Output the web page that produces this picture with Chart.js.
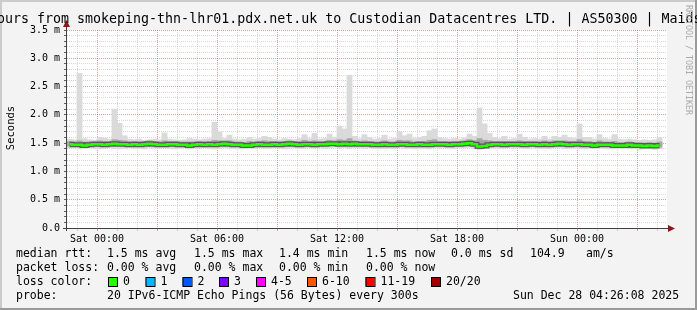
<!DOCTYPE html>
<html>
<head>
<meta charset="utf-8">
<script src="https://cdn.jsdelivr.net/npm/chart.js@4.4.0/dist/chart.umd.min.js"></script>
<style>
  html, body { margin: 0; padding: 0; background: #f3f3f3; }
  #wrap { width: 697px; height: 310px; }
</style>
</head>
<body>
<div id="wrap"><canvas id="smokeChart" width="697" height="310"></canvas></div>
<script>
// --- smokeping data, 15 min slots, hours relative to Sat 00:00 ---
const slotStart = -1.5;
const slotHours = 0.25;

// median rtt (ms)
const medianRtt = [
  1.48,1.47,1.47,1.46,1.47,1.48,1.48,1.47,1.48,1.49,
  1.48,1.48,1.47,1.48,1.47,1.48,1.49,1.48,1.47,1.47,
  1.48,1.48,1.47,1.47,1.46,1.47,1.48,1.47,1.48,1.47,
  1.48,1.49,1.48,1.47,1.47,1.46,1.46,1.47,1.48,1.47,
  1.47,1.48,1.47,1.48,1.49,1.48,1.47,1.48,1.48,1.47,
  1.48,1.48,1.49,1.49,1.48,1.49,1.48,1.49,1.48,1.48,
  1.48,1.47,1.47,1.48,1.47,1.47,1.48,1.48,1.47,1.47,
  1.48,1.47,1.47,1.48,1.48,1.48,1.47,1.48,1.48,1.49,
  1.50,1.48,1.44,1.45,1.47,1.48,1.48,1.47,1.48,1.48,
  1.48,1.47,1.48,1.48,1.47,1.48,1.47,1.48,1.49,1.48,
  1.47,1.48,1.48,1.47,1.47,1.46,1.47,1.47,1.47,1.46,
  1.46,1.46,1.47,1.46,1.46,1.45,1.46,1.45,1.46
];

// outer smoke (slowest / fastest ping)
const smokeMax = [
  1.57,1.56,2.73,1.58,1.56,1.55,1.60,1.59,1.57,2.10,
  1.85,1.63,1.57,1.56,1.57,1.55,1.56,1.57,1.56,1.68,
  1.57,1.56,1.55,1.56,1.58,1.57,1.56,1.57,1.58,1.87,
  1.70,1.58,1.64,1.57,1.56,1.57,1.60,1.57,1.58,1.62,
  1.60,1.57,1.56,1.58,1.57,1.56,1.58,1.65,1.58,1.67,
  1.57,1.58,1.66,1.60,1.80,1.75,2.70,1.62,1.58,1.65,
  1.60,1.57,1.58,1.64,1.57,1.58,1.70,1.63,1.66,1.58,
  1.60,1.62,1.72,1.75,1.60,1.58,1.57,1.58,1.57,1.59,
  1.66,1.62,2.12,1.84,1.67,1.60,1.58,1.62,1.57,1.58,
  1.66,1.60,1.57,1.58,1.57,1.62,1.57,1.62,1.60,1.64,
  1.60,1.58,1.84,1.60,1.60,1.57,1.65,1.58,1.57,1.65,
  1.57,1.56,1.57,1.56,1.55,1.56,1.55,1.56,1.60
];
const smokeMin = [
  1.41,1.42,1.40,1.41,1.42,1.41,1.40,1.41,1.42,1.41,
  1.40,1.41,1.42,1.41,1.41,1.40,1.42,1.41,1.41,1.42,
  1.41,1.40,1.41,1.42,1.40,1.41,1.41,1.42,1.41,1.40,
  1.41,1.42,1.41,1.41,1.40,1.40,1.41,1.41,1.42,1.41,
  1.41,1.42,1.41,1.40,1.41,1.42,1.41,1.41,1.42,1.41,
  1.42,1.41,1.42,1.43,1.41,1.42,1.41,1.42,1.42,1.41,
  1.42,1.41,1.40,1.41,1.41,1.40,1.42,1.41,1.41,1.40,
  1.41,1.41,1.40,1.42,1.41,1.42,1.41,1.41,1.42,1.42,
  1.43,1.41,1.39,1.40,1.41,1.42,1.41,1.41,1.42,1.41,
  1.42,1.41,1.41,1.42,1.41,1.41,1.40,1.42,1.42,1.41,
  1.41,1.42,1.41,1.40,1.41,1.40,1.41,1.41,1.40,1.40,
  1.40,1.41,1.40,1.40,1.39,1.40,1.40,1.39,1.40
];

// inner smoke (bulk of the 20 pings)
const smokeHi = [
  1.53,1.52,1.54,1.52,1.52,1.53,1.54,1.53,1.53,1.56,
  1.55,1.54,1.52,1.53,1.52,1.53,1.54,1.53,1.52,1.54,
  1.53,1.53,1.52,1.52,1.52,1.52,1.53,1.52,1.53,1.55,
  1.54,1.54,1.54,1.52,1.52,1.51,1.53,1.52,1.53,1.54,
  1.53,1.53,1.52,1.53,1.54,1.53,1.52,1.55,1.53,1.54,
  1.53,1.53,1.55,1.54,1.56,1.55,1.58,1.54,1.53,1.54,
  1.53,1.52,1.52,1.54,1.52,1.52,1.55,1.54,1.54,1.52,
  1.53,1.53,1.55,1.56,1.53,1.53,1.52,1.53,1.53,1.54,
  1.56,1.54,1.58,1.55,1.54,1.53,1.53,1.53,1.53,1.53,
  1.54,1.53,1.53,1.53,1.52,1.54,1.52,1.54,1.54,1.54,
  1.53,1.53,1.56,1.53,1.53,1.51,1.54,1.52,1.52,1.53,
  1.51,1.51,1.52,1.51,1.51,1.50,1.51,1.50,1.52
];
const smokeLo = [
  1.45,1.44,1.44,1.43,1.44,1.45,1.45,1.44,1.45,1.46,
  1.45,1.45,1.44,1.45,1.44,1.45,1.46,1.45,1.44,1.44,
  1.45,1.45,1.44,1.44,1.43,1.44,1.45,1.44,1.45,1.44,
  1.45,1.46,1.45,1.44,1.44,1.43,1.43,1.44,1.45,1.44,
  1.44,1.45,1.44,1.45,1.46,1.45,1.44,1.45,1.45,1.44,
  1.45,1.45,1.46,1.46,1.45,1.46,1.45,1.46,1.45,1.45,
  1.45,1.44,1.44,1.45,1.44,1.44,1.45,1.45,1.44,1.44,
  1.45,1.44,1.44,1.45,1.45,1.45,1.44,1.45,1.45,1.46,
  1.47,1.45,1.42,1.42,1.44,1.45,1.45,1.44,1.45,1.45,
  1.45,1.44,1.45,1.45,1.44,1.45,1.44,1.45,1.46,1.45,
  1.44,1.45,1.45,1.44,1.44,1.43,1.44,1.44,1.44,1.43,
  1.43,1.43,1.44,1.43,1.43,1.42,1.43,1.42,1.43
];

// axis labels
const xTickHours = [0, 6, 12, 18, 24];
const xTickLabels = ["Sat 00:00", "Sat 06:00", "Sat 12:00", "Sat 18:00", "Sun 00:00"];
const yTickLabels = ["0.0", "0.5 m", "1.0 m", "1.5 m", "2.0 m", "2.5 m", "3.0 m", "3.5 m"];

// legend
const lossLabels = ["0", "1", "2", "3", "4-5", "6-10", "11-19", "20/20"];
const lossColors = ["#26ff00", "#00b8ff", "#0059ff", "#7e00ff", "#ff00ff", "#ff5500", "#ff0000", "#a10000"];

const slotTimes = medianRtt.map((_, i) => slotStart + slotHours * (i + 0.5));

const MONO = '"DejaVu Sans Mono", "Liberation Mono", monospace';
const MGRID = "rgba(130,30,30,0.38)";
const GRID = "rgba(140,140,140,0.35)";

const paperPlugin = {
  id: "paper",
  beforeDraw(chart) {
    const { ctx, chartArea: a } = chart;
    ctx.save();
    ctx.fillStyle = "#f3f3f3";
    ctx.fillRect(0, 0, 697, 310);
    ctx.fillStyle = "#cbcbcb";
    ctx.fillRect(0, 0, 697, 2);
    ctx.fillRect(0, 0, 2, 310);
    ctx.fillStyle = "#9a9a9a";
    ctx.fillRect(0, 308, 697, 2);
    ctx.fillRect(695, 0, 2, 310);
    ctx.fillStyle = "#ffffff";
    ctx.fillRect(a.left, a.top, a.right - a.left, a.bottom - a.top);
    ctx.restore();
  },
  afterDraw(chart) {
    const { ctx, chartArea: a } = chart;
    ctx.save();

    // axes + arrows
    ctx.fillStyle = "#404040";
    ctx.fillRect(a.left - 1, 24, 1, a.bottom - 24 + 3);
    ctx.fillRect(a.left - 4, a.bottom, a.right - a.left + 8, 1);
    ctx.fillStyle = "#8b1a1a";
    ctx.beginPath();
    ctx.moveTo(a.left - 0.5, 20);
    ctx.lineTo(a.left - 4, 27);
    ctx.lineTo(a.left + 3, 27);
    ctx.closePath();
    ctx.fill();
    ctx.beginPath();
    ctx.moveTo(a.right + 8, a.bottom + 0.5);
    ctx.lineTo(a.right + 1, a.bottom - 3);
    ctx.lineTo(a.right + 1, a.bottom + 4);
    ctx.closePath();
    ctx.fill();

    // title
    ctx.fillStyle = "#000";
    ctx.font = "13.3px " + MONO;
    ctx.textBaseline = "alphabetic";
    ctx.textAlign = "left";
    ctx.fillText("ours from smokeping-thn-lhr01.pdx.net.uk to Custodian Datacentres LTD. | AS50300 | Maids", -3, 23);

    // y axis title
    ctx.save();
    ctx.translate(11, 128);
    ctx.rotate(-Math.PI / 2);
    ctx.font = "10.5px " + MONO;
    ctx.textAlign = "center";
    ctx.textBaseline = "middle";
    ctx.fillText("Seconds", 0, 0);
    ctx.restore();

    // watermark
    ctx.save();
    ctx.translate(688, 60);
    ctx.rotate(Math.PI / 2);
    ctx.font = "8.3px " + MONO;
    ctx.fillStyle = "#aaaaaa";
    ctx.textAlign = "center";
    ctx.textBaseline = "middle";
    ctx.fillText("RRDTOOL / TOBI OETIKER", 0, 0);
    ctx.restore();

    // footer
    ctx.font = "11.5px " + MONO;
    ctx.textBaseline = "middle";
    ctx.fillStyle = "#000";
    const row = (y, items) => items.forEach(([x, t]) => ctx.fillText(t, x, y));
    row(254, [[16, "median rtt:"], [107, "1.5 ms avg"], [194, "1.5 ms max"], [279, "1.4 ms min"],
              [366, "1.5 ms now"], [451, "0.0 ms sd"], [530, "104.9"], [586, "am/s"]]);
    row(268, [[16, "packet loss:"], [107, "0.00 % avg"], [194, "0.00 % max"], [279, "0.00 % min"], [366, "0.00 % now"]]);
    row(282, [[16, "loss color:"]]);
    const boxX = [108, 145.5, 182.5, 219, 256, 307, 365.5, 431];
    lossLabels.forEach((lab, i) => {
      ctx.fillStyle = lossColors[i];
      ctx.fillRect(boxX[i], 277, 9, 9);
      ctx.strokeStyle = "#000";
      ctx.lineWidth = 1;
      ctx.strokeRect(boxX[i] + 0.5, 277.5, 9, 9);
      ctx.fillStyle = "#000";
      ctx.fillText(lab, boxX[i] + 15, 282);
    });
    row(296, [[16, "probe:"], [107, "20 IPv6-ICMP Echo Pings (56 Bytes) every 300s"], [513, "Sun Dec 28 04:26:08 2025"]]);

    ctx.restore();
  }
};

const barBase = {
  type: "bar",
  grouped: false,
  barPercentage: 1,
  categoryPercentage: 1,
  borderWidth: 0,
  inflateAmount: 0.4
};

new Chart(document.getElementById("smokeChart").getContext("2d"), {
  type: "line",
  data: {
    datasets: [
      { ...barBase, label: "smoke outer", order: 4, backgroundColor: "#dadada",
        data: slotTimes.map((t, i) => ({ x: t, y: [smokeMin[i], smokeMax[i]] })) },
      { ...barBase, label: "smoke inner", order: 3, backgroundColor: "#a8a8a8",
        data: slotTimes.map((t, i) => ({ x: t, y: [smokeLo[i], smokeHi[i]] })) },
      { label: "median shade", order: 2, data: slotTimes.map((t, i) => ({ x: t, y: medianRtt[i] })),
        borderColor: "rgba(60,60,60,0.75)", borderWidth: 5, pointRadius: 0, stepped: "middle" },
      { label: "median", order: 1, data: slotTimes.map((t, i) => ({ x: t, y: medianRtt[i] })),
        borderColor: "#26ff00", borderWidth: 2.5, pointRadius: 0, stepped: "middle" }
    ]
  },
  options: {
    responsive: false,
    animation: false,
    devicePixelRatio: 1,
    layout: { padding: { top: 30, right: 30, left: 0, bottom: 0 } },
    plugins: { legend: { display: false }, tooltip: { enabled: false } },
    scales: {
      x: {
        type: "linear",
        min: slotStart,
        max: 28.5,
        offset: false,
        afterBuildTicks: (scale) => {
          const ticks = [];
          for (let h = -1; h <= 28; h++) ticks.push({ value: h });
          scale.ticks = ticks;
        },
        afterFit: (scale) => { scale.height = 82; },
        grid: {
          offset: false,
          color: (c) => (c.tick && c.tick.value % 3 === 0 ? MGRID : GRID),
          tickColor: (c) => (c.tick && c.tick.value % 3 === 0 ? MGRID : GRID),
          tickLength: 3
        },
        border: { display: false, dash: [1, 1] },
        ticks: {
          autoSkip: false,
          maxRotation: 0,
          padding: 2,
          color: "#000",
          font: { family: MONO, size: 10 },
          callback: (v) => {
            const k = xTickHours.indexOf(v);
            return k >= 0 ? xTickLabels[k] : "";
          }
        }
      },
      y: {
        type: "linear",
        min: 0,
        max: 3.5,
        afterBuildTicks: (scale) => {
          const ticks = [];
          for (let k = 0; k <= 35; k++) ticks.push({ value: k / 10 });
          scale.ticks = ticks;
        },
        afterFit: (scale) => { scale.width = 67; },
        grid: {
          color: (c) => (c.tick && Math.round(c.tick.value * 10) % 5 === 0 ? MGRID : GRID),
          tickColor: "#606060",
          tickLength: 3
        },
        border: { display: false, dash: [1, 1] },
        ticks: {
          autoSkip: false,
          padding: 4,
          color: "#000",
          font: { family: MONO, size: 10 },
          callback: (v) => {
            const k = Math.round(v * 10);
            return k % 5 === 0 ? yTickLabels[k / 5] : "";
          }
        }
      }
    }
  },
  plugins: [paperPlugin]
});
</script>
</body>
</html>
